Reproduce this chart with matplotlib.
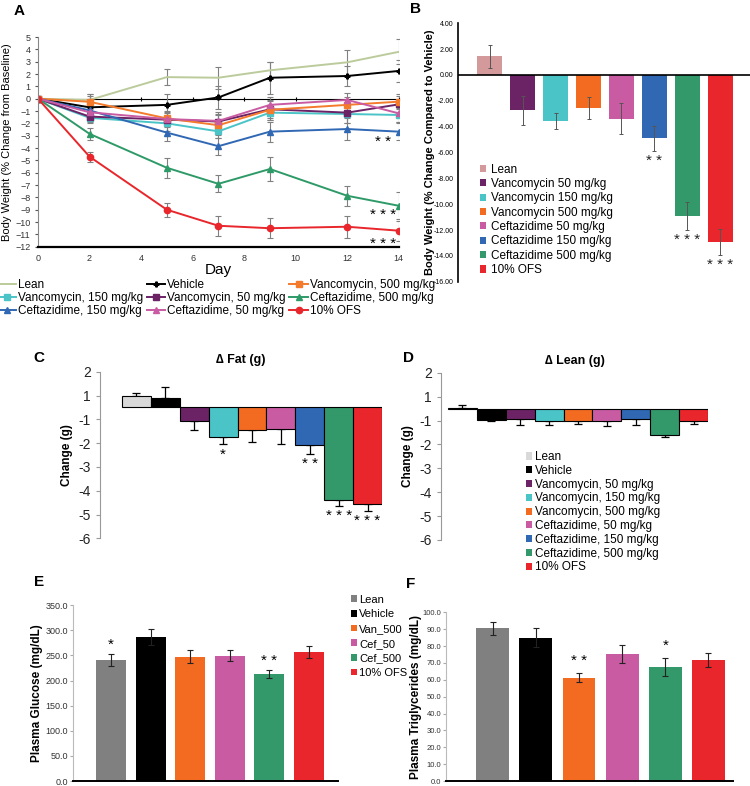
import numpy as np
import matplotlib.pyplot as plt

plt.rcParams['font.family'] = ['Liberation Sans', 'DejaVu Sans']

# ---- data ----
days = [0, 2, 5, 7, 9, 12, 14]
a_lean = [0, -0.1, 1.75, 1.7, 2.3, 2.95, 3.8]
a_vehicle = [0, -0.7, -0.5, 0.1, 1.7, 1.84, 2.25]
a_van150 = [0, -1.55, -2.0, -2.65, -1.13, -1.24, -1.32]
a_van50 = [0, -1.45, -1.7, -1.85, -0.86, -1.13, -0.46]
a_van500 = [0, -0.25, -1.6, -2.15, -0.9, -0.5, -0.24]
a_cef150 = [0, -0.95, -2.75, -3.85, -2.67, -2.46, -2.67]
a_cef50 = [0, -1.1, -1.65, -1.8, -0.5, -0.1, -1.19]
a_cef500 = [0, -2.85, -5.6, -6.9, -5.7, -7.87, -8.68]
a_ofs = [0, -4.7, -9.0, -10.3, -10.5, -10.38, -10.7]
a_err = {
    'lean': [0, 0.3, 0.65, 0.9, 0.7, 1.0, 1.0],
    'vehicle': [0, 1.1, 0.9, 0.9, 1.3, 0.8, 0.9],
    'van150': [0, 0.4, 0.6, 0.5, 0.6, 0.7, 0.6],
    'van50': [0, 0.4, 0.6, 0.6, 0.7, 0.8, 0.7],
    'van500': [0, 0.6, 0.6, 0.8, 0.8, 0.6, 0.6],
    'cef150': [0, 0.5, 0.7, 0.7, 0.8, 0.9, 0.7],
    'cef50': [0, 0.4, 0.5, 0.7, 0.6, 0.6, 0.7],
    'cef500': [0, 0.5, 0.8, 0.7, 1.0, 0.8, 1.1],
    'ofs': [0, 0.4, 0.55, 0.8, 0.8, 0.9, 0.8],
}

b_groups = ['Lean', 'Vancomycin 50 mg/kg', 'Vancomycin 150 mg/kg', 'Vancomycin 500 mg/kg',
            'Ceftazidime 50 mg/kg', 'Ceftazidime 150 mg/kg', 'Ceftazidime 500 mg/kg', '10% OFS']
b_vals = [1.45, -2.75, -3.55, -2.55, -3.4, -4.9, -10.9, -12.95]
b_err = [0.9, 1.1, 0.6, 0.85, 1.2, 0.95, 1.1, 1.0]
b_stars = ['', '', '', '', '', '**', '***', '***']

cd_groups = ['Lean', 'Vehicle', 'Vancomycin, 50 mg/kg', 'Vancomycin, 150 mg/kg',
             'Vancomycin, 500 mg/kg', 'Ceftazidime, 50 mg/kg', 'Ceftazidime, 150 mg/kg',
             'Ceftazidime, 500 mg/kg', '10% OFS']
c_vals = [0.50, 0.41, -0.59, -1.25, -0.94, -0.89, -1.59, -3.88, -4.05]
c_err = [0.09, 0.46, 0.35, 0.28, 0.52, 0.66, 0.36, 0.25, 0.29]
c_stars = ['', '', '', '*', '', '', '**', '***', '***']
d_vals = [0.02, -0.49, -0.42, -0.53, -0.50, -0.53, -0.43, -1.09, -0.54]
d_err = [0.15, 0.02, 0.25, 0.14, 0.14, 0.18, 0.24, 0.11, 0.09]
cd_ticks = [1.5, 0.5, -0.5, -1.5, -2.5, -3.5, -4.5, -5.5]
cd_ticklabels = ['2', '1', '-1', '-2', '-3', '-4', '-5', '-6']

ef_groups = ['Lean', 'Vehicle', 'Van_500', 'Cef_50', 'Cef_500', '10% OFS']
e_vals = [241, 286, 247, 249, 213, 257]
e_err = [12, 16, 13, 11, 7, 12]
e_stars = ['*', '', '', '', '**', '']
f_vals = [90.5, 85, 61.3, 75.2, 67.6, 71.6]
f_err = [4, 5.5, 2.5, 5.3, 5.3, 4.2]
f_stars = ['', '', '**', '', '*', '']

# ---- colours ----
LEAN_A = '#bccb9b'
PURPLE = '#6b2366'
CYAN = '#4bc4c8'
ORANGE = '#f26b21'
PINK = '#c95ba3'
BLUE = '#3068b4'
GREEN = '#33996a'
RED = '#e8262b'

fig = plt.figure(figsize=(7.5, 7.86), dpi=100)

# ---------------- A ----------------
ax = fig.add_axes([0.0507, 0.6861, 0.481, 0.2668])
series = [
    ('lean', a_lean, LEAN_A, None, 'Lean'),
    ('vehicle', a_vehicle, 'black', 'P', 'Vehicle'),
    ('van150', a_van150, CYAN, 's', 'Vancomycin, 150 mg/kg'),
    ('van50', a_van50, PURPLE, 's', 'Vancomycin, 50 mg/kg'),
    ('van500', a_van500, '#f47a2c', 's', 'Vancomycin, 500 mg/kg'),
    ('cef150', a_cef150, BLUE, '^', 'Ceftazidime, 150 mg/kg'),
    ('cef50', a_cef50, PINK, '^', 'Ceftazidime, 50 mg/kg'),
    ('cef500', a_cef500, '#2e9a68', '^', 'Ceftazidime, 500 mg/kg'),
    ('ofs', a_ofs, RED, 'o', '10% OFS'),
]
handles = {}
for key, vals, col, mk, lab in series:
    ax.errorbar(days, vals, yerr=a_err[key], fmt='none', ecolor='#808080',
                elinewidth=0.8, capsize=2, capthick=0.8, zorder=1)
    ms = 3.5 if mk == 'P' else 4.5
    ln, = ax.plot(days, vals, color=col, marker=mk, ms=ms, lw=1.4, label=lab, zorder=2)
    handles[lab] = ln
ax.set_xlim(0, 14)
ax.set_ylim(-12, 5)
ax.set_xticks(range(0, 15, 2))
ax.set_yticks(range(-12, 6))
ax.tick_params(axis='both', labelsize=6.5, labelcolor='#333333', colors='#555555', length=2)
ax.tick_params(axis='x', length=0, pad=5)
for s in ['top', 'right']:
    ax.spines[s].set_visible(False)
ax.spines['left'].set_color('#888888')
ax.spines['left'].set_linewidth(0.8)
ax.spines['bottom'].set_linewidth(1.6)
zero_ax = ax.secondary_xaxis(12 / 17)
zero_ax.set_xticks(range(0, 15, 2))
zero_ax.set_xticklabels([])
zero_ax.tick_params(direction='inout', length=3, width=0.8)
zero_ax.spines['bottom'].set_linewidth(1.4)
ax.set_xlabel('Day', fontsize=11, labelpad=0)
ax.set_ylabel('Body Weight (% Change from Baseline)', fontsize=8, labelpad=2)
ax.text(13.4, -3.5, '* *', fontsize=11, ha='center', va='center')
ax.text(13.4, -9.45, '* * *', fontsize=11, ha='center', va='center')
ax.text(13.4, -11.75, '* * *', fontsize=11, ha='center', va='center')
order = ['Lean', 'Vancomycin, 150 mg/kg', 'Ceftazidime, 150 mg/kg',
         'Vehicle', 'Vancomycin, 50 mg/kg', 'Ceftazidime, 50 mg/kg',
         'Vancomycin, 500 mg/kg', 'Ceftazidime, 500 mg/kg', '10% OFS']
fig.legend([handles[o] for o in order], order, loc='upper left', bbox_to_anchor=(-0.01, 0.651),
           ncol=3, frameon=False, fontsize=8.5, handlelength=1.6, handletextpad=0.15,
           columnspacing=0.3, labelspacing=0.1, borderaxespad=0)
fig.text(0.018, 0.995, 'A', fontsize=11, fontweight='bold', va='top')

# ---------------- B ----------------
bx = fig.add_axes([0.6107, 0.6416, 0.389, 0.3288])
b_cols = ['#d49a9b', PURPLE, CYAN, ORANGE, PINK, BLUE, GREEN, RED]
xb = np.arange(len(b_vals))
bars = bx.bar(xb, b_vals, width=0.76, color=b_cols, zorder=2)
for i, lab in enumerate(b_groups):
    bars[i].set_label(lab)
bx.errorbar(xb, b_vals, yerr=b_err, fmt='none', ecolor='#555555', elinewidth=0.7,
            capsize=1.5, capthick=0.7, zorder=3)
for i, st in enumerate(b_stars):
    if st:
        bx.text(xb[i], b_vals[i] - b_err[i] - 0.25, ' '.join(st), fontsize=11,
                ha='center', va='top', color='#222222')
bx.axhline(0, color='black', lw=1.2, zorder=4)
bx.set_xlim(-0.97, 7.9)
bx.set_ylim(-16, 4)
bx.set_yticks(np.arange(-16, 5, 2))
bx.set_yticklabels([f'{v:.2f}' for v in np.arange(-16, 5, 2)])
bx.set_xticks([])
bx.tick_params(axis='y', labelsize=5, length=0, pad=3)
for s in ['top', 'right', 'bottom']:
    bx.spines[s].set_visible(False)
bx.spines['left'].set_linewidth(1.2)
bx.set_ylabel('Body Weight (% Change Compared to Vehicle)', fontsize=8,
              fontweight='bold', labelpad=-1)
bx.legend(loc='upper left', bbox_to_anchor=(0.058, 0.475), frameon=False, fontsize=8.5,
          handlelength=0.55, handleheight=0.55, handletextpad=0.4, labelspacing=0.2,
          borderaxespad=0)
fig.text(0.547, 0.998, 'B', fontsize=11, fontweight='bold', va='top')


# ---------------- C & D ----------------
cd_cols = ['#d9d9d9', 'black', PURPLE, CYAN, ORANGE, PINK, BLUE, GREEN, RED]


def change_panel(axx, vals, errs, stars, title, gap):
    x = np.arange(len(vals))
    bb = axx.bar(x, vals, width=1.0, color=cd_cols, edgecolor='black', linewidth=0.8, zorder=2)
    lo = [0 if v >= 0 else e for v, e in zip(vals, errs)]
    hi = [e if v >= 0 else 0 for v, e in zip(vals, errs)]
    axx.errorbar(x, vals, yerr=[lo, hi], fmt='none', ecolor='black', elinewidth=0.9,
                 capsize=3, capthick=0.9, zorder=1)
    for i, st in enumerate(stars):
        if st:
            axx.text(x[i], vals[i] - errs[i] - 0.15, ' '.join(st), fontsize=11,
                     ha='center', va='top')
    axx.set_ylim(-5.5, 1.5)
    axx.set_xlim(-0.5 - gap, 8.5)
    axx.set_yticks(cd_ticks)
    axx.set_yticklabels(cd_ticklabels)
    axx.set_xticks([])
    axx.tick_params(axis='y', labelsize=10, length=3, colors='#999999', labelcolor='#222222')
    for s in ['top', 'right', 'bottom']:
        axx.spines[s].set_visible(False)
    axx.spines['left'].set_color('#999999')
    axx.set_ylabel('Change (g)', fontsize=8.5, fontweight='bold', labelpad=4)
    axx.set_title('\u2206 ' + title, fontsize=9, fontweight='bold', pad=6)
    return bb


cx = fig.add_axes([0.1333, 0.3151, 0.376, 0.212])
change_panel(cx, c_vals, c_err, c_stars, 'Fat (g)', 0.76)
fig.text(0.044, 0.553, 'C', fontsize=11, fontweight='bold', va='top')

dx = fig.add_axes([0.588, 0.313, 0.356, 0.2128])
dbars = change_panel(dx, d_vals, d_err, [''] * 9, 'Lean (g)', 0.24)
fig.legend(dbars, cd_groups, loc='upper left', bbox_to_anchor=(0.695, 0.432), frameon=False,
           fontsize=8.5, handlelength=0.55, handleheight=0.55, handletextpad=0.25,
           labelspacing=0.15, borderaxespad=0)
for h in fig.legends[-1].legend_handles:
    h.set_edgecolor('none')
fig.text(0.537, 0.553, 'D', fontsize=11, fontweight='bold', va='top')

# ---------------- E & F ----------------
ef_cols = ['#808080', 'black', ORANGE, PINK, GREEN, RED]


def plasma_panel(axx, vals, errs, stars, ymax, step, label, xlim, off, tsize):
    x = np.arange(len(vals))
    bb = axx.bar(x, vals, width=0.76, color=ef_cols, zorder=2)
    axx.errorbar(x, vals, yerr=errs, fmt='none', ecolor='#222222', elinewidth=0.8,
                 capsize=2, capthick=0.8, zorder=3)
    for i, st in enumerate(stars):
        if st:
            axx.text(x[i], vals[i] + errs[i] + off, ' '.join(st), fontsize=11,
                     ha='center', va='bottom')
    axx.set_ylim(0, ymax)
    axx.set_xlim(*xlim)
    ticks = np.arange(0, ymax + step / 2, step)
    axx.set_yticks(ticks)
    axx.set_yticklabels([f'{t:.1f}' for t in ticks])
    axx.set_xticks([])
    axx.tick_params(axis='y', labelsize=tsize, length=2, pad=1.5,
                    colors='#aaaaaa', labelcolor='#333333')
    for s in ['top', 'right']:
        axx.spines[s].set_visible(False)
    axx.spines['left'].set_color('#bbbbbb')
    axx.spines['bottom'].set_linewidth(1.4)
    axx.set_ylabel(label, fontsize=8.5, fontweight='bold', labelpad=2)
    return bb


ex = fig.add_axes([0.0969, 0.0062, 0.3537, 0.224])
ebars = plasma_panel(ex, e_vals, e_err, e_stars, 350, 50, 'Plasma Glucose (mg/dL)',
                     (-0.97, 5.73), 4, 6.5)
fig.legend(ebars, ef_groups, loc='upper left', bbox_to_anchor=(0.462, 0.249), frameon=False,
           fontsize=8, handlelength=0.55, handleheight=0.55, handletextpad=0.2,
           labelspacing=0.42, borderaxespad=0)
fig.text(0.045, 0.268, 'E', fontsize=11, fontweight='bold', va='top')

fx = fig.add_axes([0.5947, 0.0062, 0.3827, 0.2148])
plasma_panel(fx, f_vals, f_err, f_stars, 100, 10, 'Plasma Triglycerides (mg/dL)',
             (-1.08, 5.57), 3, 5.5)
fx.yaxis.labelpad = 0
fig.text(0.541, 0.266, 'F', fontsize=11, fontweight='bold', va='top')

fig.savefig('out.png', dpi=100)
